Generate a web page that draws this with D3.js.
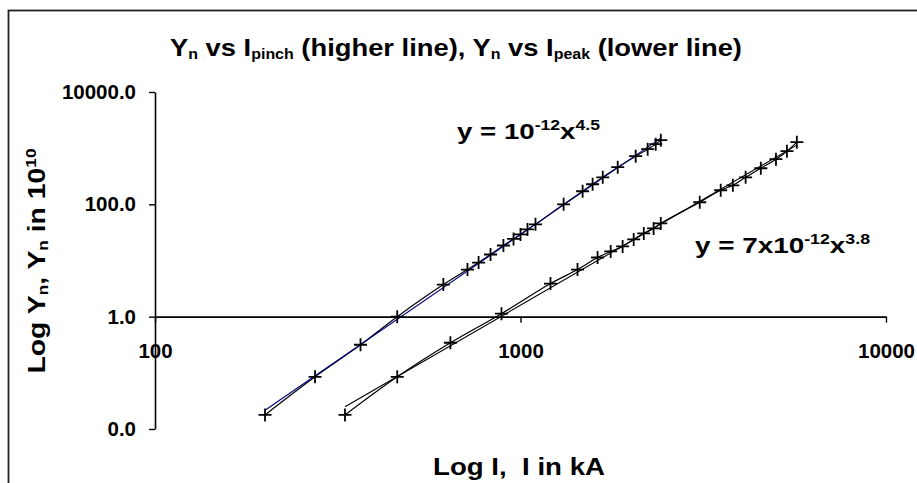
<!DOCTYPE html>
<html><head><meta charset="utf-8">
<script src="https://cdn.jsdelivr.net/npm/d3@7"></script>
<style>
html,body{margin:0;padding:0;background:#fff;}
svg{display:block;}
text{font-family:"Liberation Sans",Arial,sans-serif;font-weight:bold;fill:#000;}
</style></head>
<body>
<svg id="chart" width="917" height="483"></svg>
<script>
// Data (I in kA, Yn in 10^10)
const pinchI = [200,274,365,460,615,716,768,828,898,957,1000,1045,1099,1312,1479,1575,1679,1845,2066,2228,2344,2420];
const pinchY = [0.0178,0.085,0.316,1.0,3.73,6.9,9.2,12.8,18.5,24.2,29.1,35.8,44.0,100,171,228,303,458,720,960,1180,1390];
const peakI = [331,460,643,887,1208,1432,1625,1765,1903,2040,2174,2313,2420,3093,3530,3810,4130,4545,5000,5358,5703];
const peakY = [0.0178,0.085,0.343,1.13,3.88,6.9,11.3,14.5,17.8,23.7,30.4,37.3,45.8,109,178,218,303,439,636,884,1280];
const xTicks = [100,1000,10000];
const yTicks = [0.01,1,100,10000];

const svg = d3.select("#chart");
const W = 917, H = 483;
svg.append("rect").attr("x",0).attr("y",0).attr("width",W).attr("height",H).attr("fill","#fff");
// outer chart frame
svg.append("rect").attr("x",8.5).attr("y",10.5).attr("width",1000).attr("height",1000)
  .attr("fill","none").attr("stroke","#222").attr("stroke-width",1.8);

const x = d3.scaleLog().domain([100,10000]).range([155,886]);
const y = d3.scaleLog().domain([0.01,10000]).range([429,92]);

// Y axis
const yAx = svg.append("g").attr("transform","translate(155,0)")
  .call(d3.axisLeft(y).tickValues(yTicks).tickFormat(d3.format(".1f")).tickSize(6).tickSizeOuter(0).tickPadding(13));
// X axis crossing at y = 1
const xAx = svg.append("g").attr("transform",`translate(0,${y(1)})`)
  .call(d3.axisBottom(x).tickValues(xTicks).tickFormat(d=>String(d)).tickSize(6).tickSizeOuter(0).tickPadding(21));
[yAx,xAx].forEach(g=>{
  g.select(".domain").attr("stroke","#000").attr("stroke-width",1.6);
  g.selectAll(".tick line").attr("stroke","#000").attr("stroke-width",1.4);
  g.selectAll(".tick text").attr("font-family","Liberation Sans, Arial, sans-serif")
    .attr("font-weight","bold").attr("font-size",20.5).attr("fill","#000");
});

// power-law fit in log-log space
function fit(xs, ys){
  const lx = xs.map(Math.log10), ly = ys.map(Math.log10);
  const n = lx.length, mx = d3.mean(lx), my = d3.mean(ly);
  let sxy=0, sxx=0;
  for(let i=0;i<n;i++){ sxy+=(lx[i]-mx)*(ly[i]-my); sxx+=(lx[i]-mx)**2; }
  const b = sxy/sxx, a = my - b*mx;
  const x0 = d3.min(xs), x1 = d3.max(xs);
  return [[x0, 10**(a+b*Math.log10(x0))],[x1, 10**(a+b*Math.log10(x1))]];
}
const straight = d3.line().x(d=>x(d[0])).y(d=>y(d[1]));
const smooth = d3.line().x(d=>x(d[0])).y(d=>y(d[1])).curve(d3.curveCatmullRom.alpha(0.5));

const series = [
  {xs:pinchI, ys:pinchY, trend:"#000080"},
  {xs:peakI, ys:peakY, trend:"#000"}
];
series.forEach(s=>{
  const pts = s.xs.map((v,i)=>[v, s.ys[i]]);
  svg.append("path").attr("d", smooth(pts)).attr("fill","none").attr("stroke","#000").attr("stroke-width",1.2);
  svg.append("path").attr("d", straight(fit(s.xs,s.ys))).attr("fill","none").attr("stroke",s.trend).attr("stroke-width",1.1);
  svg.append("g").selectAll("path").data(pts).join("path")
    .attr("transform", d=>`translate(${x(d[0])},${y(d[1])})`)
    .attr("d","M-6.5,0H6.5M0,-6.5V6.5").attr("stroke","#000").attr("stroke-width",1.8).attr("fill","none");
});

// Title
const t = svg.append("text").attr("x",456).attr("y",56).attr("text-anchor","middle").attr("font-size",24)
  .attr("textLength",572).attr("lengthAdjust","spacingAndGlyphs");
t.append("tspan").text("Y");
t.append("tspan").attr("font-size",14).attr("dy",3).text("n");
t.append("tspan").attr("dy",-3).text(" vs I");
t.append("tspan").attr("font-size",14).attr("dy",3).text("pinch");
t.append("tspan").attr("dy",-3).text(" (higher line), Y");
t.append("tspan").attr("font-size",14).attr("dy",3).text("n");
t.append("tspan").attr("dy",-3).text(" vs I");
t.append("tspan").attr("font-size",14).attr("dy",3).text("peak");
t.append("tspan").attr("dy",-3).text(" (lower line)");

// Equations
const e1 = svg.append("text").attr("x",457).attr("y",139).attr("font-size",22)
  .attr("textLength",143).attr("lengthAdjust","spacingAndGlyphs");
e1.append("tspan").text("y = 10");
e1.append("tspan").attr("font-size",14).attr("dy",-9).text("-12");
e1.append("tspan").attr("dy",9).text("x");
e1.append("tspan").attr("font-size",14).attr("dy",-9).text("4.5");

const e2 = svg.append("text").attr("x",695).attr("y",253).attr("font-size",22)
  .attr("textLength",175).attr("lengthAdjust","spacingAndGlyphs");
e2.append("tspan").text("y = 7x10");
e2.append("tspan").attr("font-size",14).attr("dy",-9).text("-12");
e2.append("tspan").attr("dy",9).text("x");
e2.append("tspan").attr("font-size",14).attr("dy",-9).text("3.8");

// Axis titles
svg.append("text").attr("x",519).attr("y",475).attr("text-anchor","middle").attr("font-size",24)
  .attr("textLength",172).attr("lengthAdjust","spacingAndGlyphs").attr("xml:space","preserve").text("Log I,  I in kA");

const yt = svg.append("text").attr("transform","translate(45,261) rotate(-90)").attr("text-anchor","middle")
  .attr("font-size",23).attr("textLength",225).attr("lengthAdjust","spacingAndGlyphs");
yt.append("tspan").text("Log Y");
yt.append("tspan").attr("font-size",14).attr("dy",3).text("n");
yt.append("tspan").attr("dy",-3).text(",  Y");
yt.append("tspan").attr("font-size",14).attr("dy",3).text("n");
yt.append("tspan").attr("dy",-3).text(" in 10");
yt.append("tspan").attr("font-size",14).attr("dy",-9).text("10");
</script>
</body></html>
